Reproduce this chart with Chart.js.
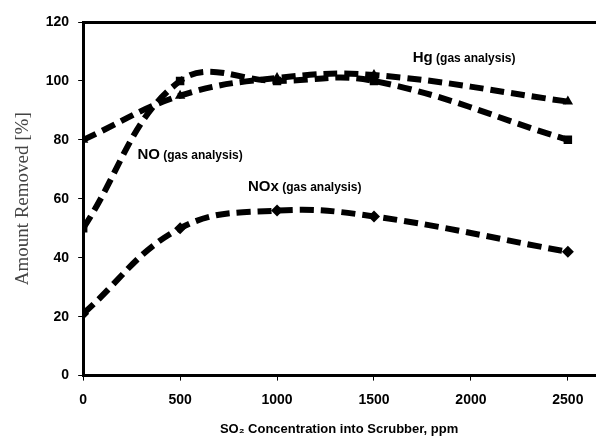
<!DOCTYPE html>
<html>
<head>
<meta charset="utf-8">
<script src="https://cdn.jsdelivr.net/npm/chart.js@4.4.1/dist/chart.umd.min.js"></script>
<style>
  html, body { margin: 0; padding: 0; background: #fff; }
  #wrap { width: 601px; height: 437px; }
</style>
</head>
<body>
<div id="wrap"><canvas id="scrubberChart"></canvas></div>
<script>
// SO2 concentration into scrubber, ppm
const so2 = [0, 500, 1000, 1500, 2500];
// percent removed
const noRemoved = [50, 100, 100, 100, 80];
const hgRemoved = [80, 95, 101, 102, 93];
const noxRemoved = [21, 50, 56, 54, 42];
const xTicks = [0, 500, 1000, 1500, 2000, 2500];

const toPoints = (vals) => vals.map((v, i) => ({ x: so2[i], y: v }));

const labels = [
    { main: 'Hg', sub: ' (gas analysis)', x: 1700, y: 108 },
    { main: 'NO', sub: ' (gas analysis)', x: 280, y: 75 },
    { main: 'NOx', sub: ' (gas analysis)', x: 850, y: 64 }
];

const seriesLabels = {
    id: 'seriesLabels',
    afterDatasetsDraw(chart) {
        const c = chart.ctx;
        const xs = chart.scales.x, ys = chart.scales.y;
        c.save();
        c.fillStyle = '#000';
        c.textBaseline = 'middle';
        labels.forEach(l => {
            let px = xs.getPixelForValue(l.x);
            const py = ys.getPixelForValue(l.y);
            c.font = 'bold 15px "Liberation Sans", Arial, sans-serif';
            c.fillText(l.main, px, py);
            px += c.measureText(l.main).width;
            c.font = 'bold 12px "Liberation Sans", Arial, sans-serif';
            c.fillText(l.sub, px, py + 1);
        });
        c.restore();
    }
};

const lineStyle = {
    showLine: true,
    borderColor: '#000',
    backgroundColor: '#000',
    borderWidth: 6,
    borderDash: [14, 7],
    tension: 0.4,
    pointRadius: 6,
    pointBorderWidth: 0,
    fill: false
};

const ctx = document.getElementById('scrubberChart').getContext('2d');

new Chart(ctx, {
    type: 'scatter',
    data: {
        datasets: [
            Object.assign({ label: 'NO', data: toPoints(noRemoved), pointStyle: 'rect' }, lineStyle),
            Object.assign({ label: 'Hg', data: toPoints(hgRemoved), pointStyle: 'triangle', pointRadius: 7 }, lineStyle),
            Object.assign({ label: 'NOx', data: toPoints(noxRemoved), pointStyle: 'rectRot' }, lineStyle)
        ]
    },
    options: {
        responsive: true,
        maintainAspectRatio: false,
        animation: false,
        layout: { padding: { top: 14, right: 0, left: 12, bottom: 0 } },
        plugins: {
            legend: { display: false },
            tooltip: { enabled: false }
        },
        scales: {
            x: {
                type: 'linear',
                min: 0,
                max: 2640,
                afterBuildTicks: (axis) => { axis.ticks = xTicks.map(v => ({ value: v })); },
                border: { color: '#000', width: 3 },
                grid: { drawOnChartArea: false, drawTicks: true, tickLength: 5, color: '#000' },
                ticks: {
                    color: '#000',
                    padding: 11,
                    maxRotation: 0,
                    callback: (v) => String(v),
                    font: { family: '"Liberation Sans", Arial, sans-serif', size: 14, weight: 'bold' }
                },
                title: {
                    display: true,
                    text: 'SO\u2082 Concentration into Scrubber, ppm',
                    color: '#000',
                    padding: { top: 2, bottom: 0 },
                    font: { family: '"Liberation Sans", Arial, sans-serif', size: 13, weight: 'bold' }
                }
            },
            xTop: {
                type: 'linear',
                position: 'top',
                min: 0,
                max: 2640,
                border: { color: '#000', width: 3 },
                grid: { display: false },
                ticks: { display: false }
            },
            y: {
                min: 0,
                max: 120,
                ticks: {
                    stepSize: 20,
                    color: '#000',
                    padding: 9,
                    font: { family: '"Liberation Sans", Arial, sans-serif', size: 14, weight: 'bold' }
                },
                border: { color: '#000', width: 3 },
                grid: { drawOnChartArea: false, drawTicks: true, tickLength: 5, color: '#000' },
                title: {
                    display: true,
                    text: 'Amount Removed [%]',
                    color: '#444',
                    padding: { top: 0, bottom: 2 },
                    font: { family: '"Liberation Serif", "Times New Roman", serif', size: 19 }
                }
            }
        }
    },
    plugins: [seriesLabels]
});
</script>
</body>
</html>
